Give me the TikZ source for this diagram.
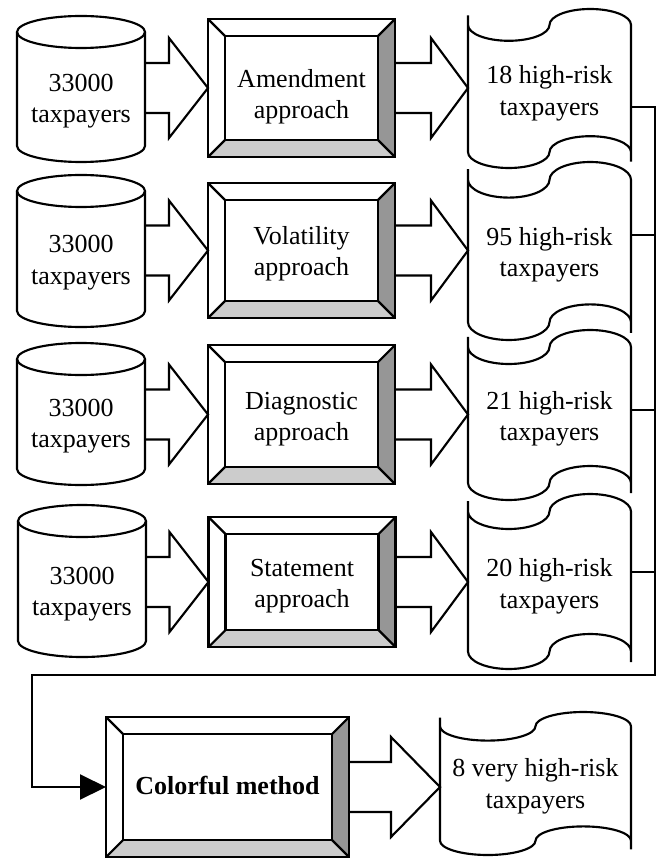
\documentclass[tikz,border=0pt]{standalone}
\usepackage{fontspec}
\setmainfont{Liberation Serif}
\usetikzlibrary{calc,arrows.meta}
\definecolor{bevdark}{RGB}{150,150,150}
\definecolor{bevlight}{RGB}{204,204,204}
% block arrow: #1 start point, #2 tip point, #3 head length (px)
\newcommand\blockarrow[3]{%
  \draw[lw] ($#1+(0,-25)$) -- ($#2+(-#3,-25)$) -- ($#2+(-#3,-50)$) -- #2
    -- ($#2+(-#3,50)$) -- ($#2+(-#3,25)$) -- ($#1+(0,25)$);}
% centred text lowered by #1 without changing the node size
\newcommand\lowtext[2][3pt]{\raisebox{-#1}[\height][\depth]{\begin{tabular}{@{}c@{}}#2\end{tabular}}}
\begin{document}
\begin{tikzpicture}[x=0.75pt, y=-0.75pt,
  lw/.style={line width=1.6pt, line join=miter},
  txt/.style={font=\fontsize{19.5}{23.5}\selectfont, inner sep=0pt, outer sep=0pt},
  cylbody/.style={txt, minimum width=96pt, minimum height=#1},
  bevbox/.style={txt, minimum width=140.25pt, minimum height=#1},
  tapebox/.style={txt, minimum width=122.25pt, minimum height=#1},
  bigtip/.style={-{Triangle[length=19.5pt, width=18.75pt]}}
]
\useasboundingbox (0,0) rectangle (660,859);

% ---- nodes ----
\node[cylbody=73.5pt] (cyl1) at (81,97)  {\lowtext{33000\\taxpayers}};
\node[cylbody=78pt]   (cyl2) at (81,259) {\lowtext[2.5pt]{33000\\taxpayers}};
\node[cylbody=70.5pt] (cyl3) at (81,422) {\lowtext{33000\\taxpayers}};
\node[cylbody=78pt]   (cyl4) at (82,589) {\lowtext[3.5pt]{33000\\taxpayers}};

\node[bevbox=103.5pt]  (box1) at (301.5,88)    {\lowtext[6.5pt]{Amendment\\approach}};
\node[bevbox=101.25pt] (box2) at (301.5,250.5) {\lowtext[2.5pt]{Volatility\\approach}};
\node[bevbox=104.25pt] (box3) at (301.5,414.5) {\lowtext{Diagnostic\\approach}};
\node[bevbox=97.5pt]   (box4) at (302,582)     {\lowtext{Statement\\approach}};
\node[bevbox=105pt, minimum width=182.25pt, font=\fontsize{19.5}{23.5}\selectfont\bfseries]
   (box5) at (227.5,787) {\lowtext[1pt]{Colorful method}};

\node[tapebox=119.25pt] (t1) at (549.5,88.5) {\lowtext[3.5pt]{18 high-risk\\taxpayers}};
\node[tapebox=133.5pt]  (t2) at (549.5,251)  {\lowtext{95 high-risk\\taxpayers}};
\node[tapebox=127.5pt]  (t3) at (549.5,415)  {\lowtext{21 high-risk\\taxpayers}};
\node[tapebox=131.25pt] (t4) at (549.5,581.5) {\lowtext[3.5pt]{20 high-risk\\taxpayers}};
\node[tapebox=107.25pt, minimum width=143.25pt] (t5) at (535.5,783.5) {\lowtext[2pt]{8 very high-risk\\taxpayers}};

% ---- cylinders ----
\foreach \nm in {cyl1,cyl2,cyl3,cyl4}{
  \draw[lw] ([yshift=12pt]\nm.north) ellipse [x radius=48pt, y radius=12pt];
  \draw[lw] ([yshift=12pt]\nm.north west) -- (\nm.south west)
     arc[start angle=180, end angle=360, x radius=48pt, y radius=12pt]
     -- ([yshift=12pt]\nm.north east);
}

% ---- bevelled boxes ----
\foreach \nm in {box1,box2,box3,box4,box5}{
  \fill[bevdark] (\nm.north east) -- (\nm.south east)
     -- ([shift={(-12.75pt,12.75pt)}]\nm.south east)
     -- ([shift={(-12.75pt,-12.75pt)}]\nm.north east) -- cycle;
  \fill[bevlight] (\nm.south west) -- (\nm.south east)
     -- ([shift={(-12.75pt,12.75pt)}]\nm.south east)
     -- ([shift={(12.75pt,12.75pt)}]\nm.south west) -- cycle;
  \draw[lw] (\nm.north west) rectangle (\nm.south east);
  \draw[lw] ([shift={(12.75pt,-12.75pt)}]\nm.north west) rectangle ([shift={(-12.75pt,12.75pt)}]\nm.south east);
  \draw[lw] (\nm.north west) -- ++(12.75pt,-12.75pt)
            (\nm.north east) -- ++(-12.75pt,-12.75pt)
            (\nm.south west) -- ++(12.75pt,12.75pt)
            (\nm.south east) -- ++(-12.75pt,12.75pt);
}

% ---- punched tapes ----
\foreach \nm in {t1,t2,t3,t4,t5}{
  \draw[lw] let \p1=(\nm.north west), \p2=(\nm.south east),
      \n1={(\x2-\x1)/4}, \n2={(\y1-\y2)/10} in
    (\x1,\y1-0.4*\n2) -- (\x1,\y2+\n2)
    (\x2,\y1-\n2) -- (\x2,\y2+0.4*\n2)
    (\x1,\y1-\n2) arc[start angle=180, end angle=360, x radius=\n1, y radius=\n2]
                  arc[start angle=180, end angle=0, x radius=\n1, y radius=\n2]
    (\x2,\y2+\n2) arc[start angle=0, end angle=180, x radius=\n1, y radius=\n2]
                  arc[start angle=0, end angle=-180, x radius=\n1, y radius=\n2];
}

% ---- block arrows ----
\blockarrow{(cyl1.east |- box1.west)}{(box1.west)}{39}
\blockarrow{(cyl2.east |- box2.west)}{(box2.west)}{39}
\blockarrow{(cyl3.east |- box3.west)}{(box3.west)}{39}
\blockarrow{(cyl4.east |- box4.west)}{(box4.west)}{39}
\blockarrow{(box1.east)}{(t1.west |- box1.east)}{37}
\blockarrow{(box2.east)}{(t2.west |- box2.east)}{37}
\blockarrow{(box3.east)}{(t3.west |- box3.east)}{37}
\blockarrow{(box4.east)}{(t4.west |- box4.east)}{37}
\blockarrow{(box5.east)}{(t5.west |- box5.east)}{49}

% ---- collecting connector ----
\coordinate (j1) at (655,107);
\coordinate (j2) at (655,235);
\coordinate (j3) at (655,410);
\coordinate (j4) at (655,572);
\coordinate (jc) at (655,675);
\coordinate (jl) at (32,675);
\draw[lw, bigtip] (t1.east |- j1) -- (j1) -- (jc) -- (jl) -- (jl |- box5.west) -- (box5.west);
\draw[lw] (t2.east |- j2) -- (j2);
\draw[lw] (t3.east |- j3) -- (j3);
\draw[lw] (t4.east |- j4) -- (j4);
\end{tikzpicture}
\end{document}
